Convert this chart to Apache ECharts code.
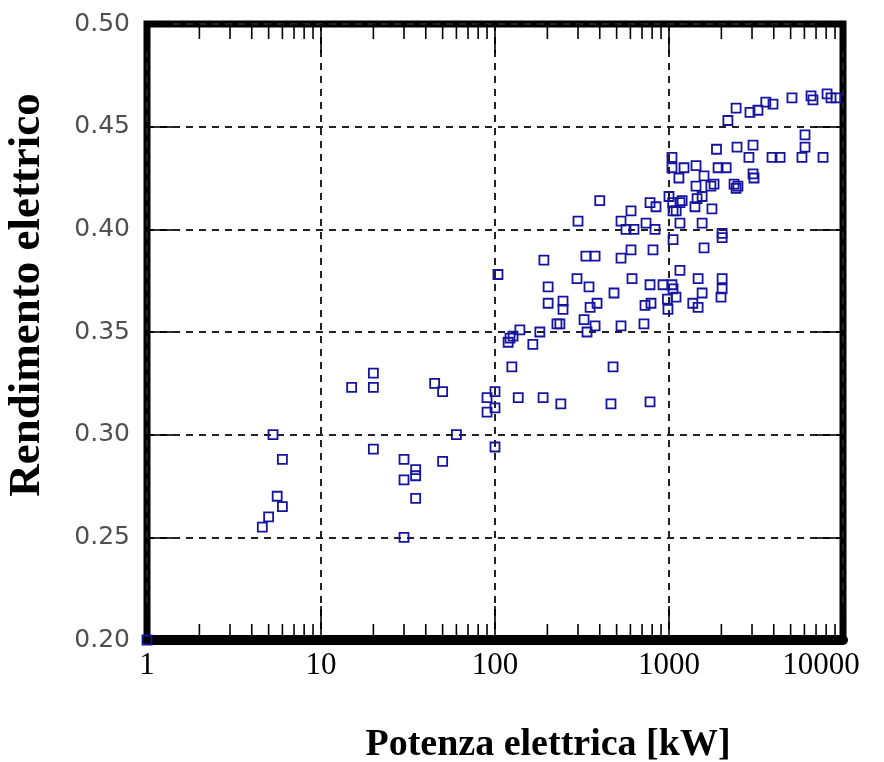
<!DOCTYPE html>
<html><head><meta charset="utf-8">
<script src="https://cdn.jsdelivr.net/npm/echarts@6/dist/echarts.min.js"></script>
<style>html,body{margin:0;padding:0;background:#fff}#c{width:884px;height:762px}</style>
</head><body><div id="c"></div>
<script>
// Electric power [kW]
const power = [
  1, 4.6, 5.0, 5.3, 5.6, 6.0, 6.0, 15, 20, 20, 20, 30, 30, 30, 35, 35, 35, 45, 50, 50,
  60, 90, 90, 100, 100, 100, 104, 119, 127, 122, 139, 125, 136, 165, 181, 189, 191, 202, 202, 227,
  236, 239, 246, 246, 296, 300, 325, 338, 333, 347, 352, 376, 376, 386, 400, 464, 477, 483, 530, 530,
  530, 566, 605, 605, 613, 629, 718, 728, 738, 778, 778, 788, 778, 831, 842, 809, 924, 980, 986, 1040,
  1055, 1097, 1000, 1040, 1040, 1055, 1055, 1140, 1156, 1190, 1156, 1156, 1220, 1050, 1100, 1370, 1470, 1410, 1450, 1550,
  1430, 1430, 1470, 1550, 1550, 1590, 1590, 1740, 1815, 1765, 1875, 1915, 2020, 2020, 2020, 2020, 1990, 2130, 2180, 2365,
  2490, 2430, 2430, 2460, 2880, 2920, 3040, 3040, 3080, 3245, 3600, 3960, 3910, 4350, 5090, 6050, 6050, 5810, 6550, 6720,
  7680, 8100, 8535, 9120
];
// Electrical efficiency
const efficiency = [
  0.200, 0.255, 0.260, 0.300, 0.270, 0.288, 0.265, 0.323, 0.323, 0.330, 0.293, 0.288, 0.278, 0.250, 0.283, 0.280, 0.269, 0.325, 0.321, 0.287,
  0.300, 0.318, 0.311, 0.321, 0.313, 0.294, 0.378, 0.345, 0.348, 0.347, 0.351, 0.333, 0.318, 0.344, 0.350, 0.318, 0.385, 0.372, 0.364, 0.354,
  0.354, 0.315, 0.365, 0.361, 0.376, 0.404, 0.356, 0.350, 0.387, 0.372, 0.362, 0.387, 0.353, 0.364, 0.414, 0.315, 0.333, 0.369, 0.386, 0.353,
  0.404, 0.400, 0.409, 0.390, 0.376, 0.400, 0.354, 0.363, 0.403, 0.316, 0.373, 0.364, 0.413, 0.400, 0.411, 0.390, 0.373, 0.366, 0.361, 0.373,
  0.371, 0.367, 0.416, 0.435, 0.430, 0.409, 0.395, 0.425, 0.413, 0.414, 0.403, 0.380, 0.430, 0.413, 0.409, 0.364, 0.362, 0.411, 0.415, 0.416,
  0.431, 0.421, 0.376, 0.403, 0.369, 0.426, 0.391, 0.421, 0.422, 0.410, 0.439, 0.430, 0.398, 0.396, 0.376, 0.371, 0.367, 0.430, 0.453, 0.422,
  0.421, 0.420, 0.459, 0.440, 0.435, 0.457, 0.441, 0.427, 0.425, 0.458, 0.462, 0.461, 0.435, 0.435, 0.464, 0.446, 0.440, 0.435, 0.465, 0.463,
  0.435, 0.466, 0.464, 0.464
];
const xTickLabels = ['1', '10', '100', '1000', '10000'];
const yTickLabels = ['0.20', '0.25', '0.30', '0.35', '0.40', '0.45', '0.50'];
const minorTickValues = [2, 3, 4, 5, 6, 7, 8, 9, 20, 30, 40, 50, 60, 70, 80, 90,
  200, 300, 400, 500, 600, 700, 800, 900, 2000, 3000, 4000, 5000, 6000, 7000, 8000, 9000];

const X_MIN = 1, X_MAX = 10000, Y_MIN = 0.2, Y_MAX = 0.5, Y_STEP = 0.05;

const points = power.map((p, i) => [p, efficiency[i]]);

const chart = echarts.init(document.getElementById('c'), null, {renderer: 'canvas'});
const serif = '"Liberation Serif", "DejaVu Serif", serif';
const gridLine = {show: true, lineStyle: {color: '#222', width: 2, type: [7, 6]}};

chart.setOption({
  animation: false,
  backgroundColor: '#fff',
  grid: {left: 147, right: 41, top: 24, bottom: 122, show: true, borderColor: '#000', borderWidth: 7, backgroundColor: 'transparent'},
  xAxis: [{
    type: 'log', logBase: 10, min: X_MIN, max: X_MAX, position: 'bottom',
    axisLine: {show: true, onZero: false, lineStyle: {color: '#000', width: 10}},
    axisTick: {show: true, inside: true, length: 34, lineStyle: {color: '#000', width: 1.6}},
    axisLabel: {
      margin: 10, color: '#000', fontFamily: serif, fontSize: 31,
      formatter: v => {
        const i = Math.round(Math.log10(v));
        return i === xTickLabels.length - 1 ? '{last|' + xTickLabels[i] + '}' : xTickLabels[i];
      },
      rich: {last: {fontFamily: serif, fontSize: 31, color: '#000', padding: [0, 44, 0, 0]}}
    },
    splitLine: gridLine
  }, {
    type: 'log', logBase: 10, min: X_MIN, max: X_MAX, position: 'top',
    axisLine: {show: false},
    axisTick: {show: true, inside: true, length: 29, lineStyle: {color: '#000', width: 1.6}},
    axisLabel: {show: false}, splitLine: {show: false}
  }],
  yAxis: [{
    type: 'value', min: Y_MIN, max: Y_MAX, interval: Y_STEP, position: 'left',
    axisLine: {show: false},
    axisTick: {show: true, inside: true, length: 26, lineStyle: {color: '#000', width: 1.6}},
    axisLabel: {
      margin: 17, color: '#505050', fontFamily: '"DejaVu Sans", sans-serif', fontSize: 25,
      formatter: v => yTickLabels[Math.round((v - Y_MIN) / Y_STEP)]
    },
    splitLine: gridLine
  }, {
    type: 'value', min: Y_MIN, max: Y_MAX, interval: Y_STEP, position: 'right',
    axisLine: {show: false},
    axisTick: {show: true, inside: true, length: 28, lineStyle: {color: '#000', width: 1.6}},
    axisLabel: {show: false}, splitLine: {show: false}
  }],
  series: [{
    type: 'custom', xAxisIndex: 0, yAxisIndex: 0, clip: false, silent: true, z: 3,
    data: minorTickValues.map(v => [v, Y_MIN]),
    encode: {x: 0, y: 1},
    renderItem: function (params, api) {
      const v = api.value(0);
      const b = api.coord([v, Y_MIN]);
      const t = api.coord([v, Y_MAX]);
      return {type: 'group', children: [
        {type: 'line', shape: {x1: b[0], y1: b[1], x2: b[0], y2: b[1] - 16}, style: {stroke: '#000', lineWidth: 1.6}},
        {type: 'line', shape: {x1: t[0], y1: t[1], x2: t[0], y2: t[1] + 15}, style: {stroke: '#000', lineWidth: 1.6}}
      ]};
    }
  }, {
    type: 'scatter', xAxisIndex: 0, yAxisIndex: 0, z: 5,
    symbol: 'rect', symbolSize: 9,
    itemStyle: {color: 'rgba(0,0,0,0)', borderColor: '#1414a0', borderWidth: 1.8, opacity: 1},
    data: points
  }],
  graphic: [{
    type: 'text', x: 548, y: 745,
    style: {text: 'Potenza elettrica [kW]', font: 'bold 38px ' + serif, fill: '#000', textAlign: 'center', textVerticalAlign: 'middle'}
  }, {
    type: 'text', x: 27, y: 295, rotation: Math.PI / 2,
    style: {text: 'Rendimento elettrico', font: 'bold 45px ' + serif, fill: '#000', textAlign: 'center', textVerticalAlign: 'middle'}
  }]
});
</script>
</body></html>
